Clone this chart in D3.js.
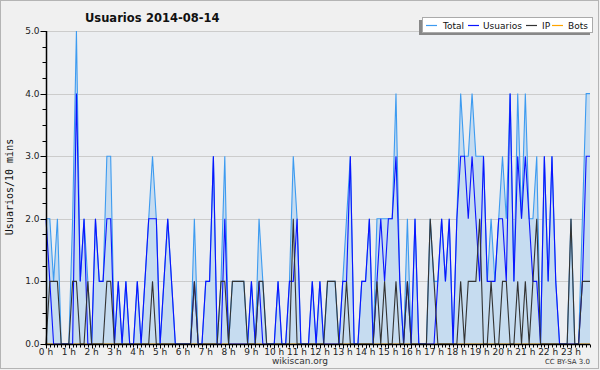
<!DOCTYPE html>
<html><head><meta charset="utf-8">
<script src="https://cdn.jsdelivr.net/npm/d3@7"></script>
<style>body{margin:0;background:#fff}svg{display:block}</style>
</head><body>
<svg id="c" width="600" height="370"></svg>
<script>
const total    = [2,2,1,2,0,0,0,2,5,1,2,1,0,2,1,1,3,3,0,1,0,1,0,0,1,0,1,2,3,2,0,1,2,1,0,0,0,0,0,2,0,0,1,1,3,0,1,3,0,1,1,1,1,0,1,0,2,1,0,0,0,1,0,0,1,3,2,0,0,0,1,0,1,0,1,1,1,0,1,2,3,0,0,1,1,2,0,2,2,2,2,2,4,1,0,2,0,2,0,0,0,2,1,1,2,1,2,0,2,4,3,3,4,3,3,3,1,2,1,2,3,2,4,1,4,2,4,2,2,3,0,3,1,3,1,0,0,0,2,0,0,2,4,4];
const usuarios = [2,1,0,0,0,0,0,0,4,1,2,0,0,2,1,1,2,2,0,1,0,1,0,0,1,0,1,2,2,2,0,1,2,1,0,0,0,0,0,1,0,0,1,1,3,0,0,2,0,0,0,0,0,0,1,0,1,0,0,0,0,1,0,0,1,1,2,0,0,0,1,0,1,0,0,0,0,0,1,1,3,0,0,1,1,2,0,1,2,1,2,2,3,1,0,1,0,2,0,0,0,0,0,1,2,1,2,0,2,3,3,2,3,2,1,3,1,1,1,2,2,1,4,1,3,2,3,2,1,1,0,3,1,3,1,0,0,0,0,0,0,1,3,3];
const ip       = [0,1,1,1,0,0,0,1,1,0,0,1,0,0,0,0,1,1,0,0,0,0,0,0,0,0,0,0,1,0,0,0,0,0,0,0,0,0,0,1,0,0,0,0,0,0,1,1,0,1,1,1,1,0,0,0,1,1,0,0,0,0,0,0,0,2,0,0,0,0,0,0,0,0,1,1,1,0,0,1,0,0,0,0,0,0,0,1,0,1,0,0,1,0,0,1,0,0,0,0,0,2,1,0,0,0,0,0,0,1,0,1,1,1,2,0,0,1,0,0,1,1,0,0,1,0,1,0,1,2,0,0,0,0,0,0,0,0,2,0,0,1,1,1];
const bots     = new Array(144).fill(0);
const hourLabels = ["0 h","1 h","2 h","3 h","4 h","5 h","6 h","7 h","8 h","9 h","10 h","11 h","12 h","13 h","14 h","15 h","16 h","17 h","18 h","19 h","20 h","21 h","22 h","23 h"];
const yTicks = [0,1,2,3,4,5];
const seriesNames = ["Total","Usuarios","IP","Bots"];
const seriesColors = ["#3d9bf0","#0a14ff","#333333","#ffa500"];

const svg = d3.select("#c");
const font = "DejaVu Sans, Verdana, sans-serif";
svg.append("rect").attr("x",0).attr("y",0).attr("width",600).attr("height",370).attr("fill","#f0f0f0");
svg.append("rect").attr("x",0.5).attr("y",0.5).attr("width",598).attr("height",368).attr("fill","none").attr("stroke","#b4b4b4").attr("stroke-width",1);

const x = d3.scaleLinear().domain([0,143]).range([46,590]);
const y = d3.scaleLinear().domain([0,5]).range([344,31]);

svg.append("rect").attr("x",46).attr("y",31).attr("width",544).attr("height",313).attr("fill","#eceef1");

// grid
svg.append("g").selectAll("line").data(yTicks.slice(1)).join("line")
  .attr("x1",46).attr("x2",590).attr("y1",d=>Math.round(y(d))+0.5).attr("y2",d=>Math.round(y(d))+0.5)
  .attr("stroke","#cccccc").attr("stroke-width",1);

const idx = d3.range(144);
const area = d3.area().x(i=>x(i)).y0(y(0)).y1(i=>y(total[i]));
svg.append("path").datum(idx).attr("d",area).attr("fill","#c6dcf0");

const line = arr => d3.line().x(i=>x(i)).y(i=>y(arr[i]));
[[bots,3],[total,0],[usuarios,1],[ip,2]].forEach(([arr,k])=>{
  svg.append("path").datum(idx).attr("d",line(arr)).attr("fill","none")
    .attr("stroke",seriesColors[k]).attr("stroke-width",1.1);
});

// y axis
const yMinor = d3.range(0,5.001,0.25);
const ya = svg.append("g").attr("transform","translate(46.5,0)");
ya.append("line").attr("x1",0).attr("x2",0).attr("y1",31).attr("y2",344.5).attr("stroke","#000").attr("stroke-width",1.5);
ya.selectAll("line.mn").data(yMinor).join("line").attr("class","mn")
  .attr("x1",d=>Number.isInteger(d)?-6:-4).attr("x2",0).attr("y1",d=>Math.round(y(d))+0.5).attr("y2",d=>Math.round(y(d))+0.5)
  .attr("stroke","#000").attr("stroke-width",1);
ya.selectAll("text").data(yTicks).join("text")
  .attr("x",-7).attr("y",d=>y(d)+3).attr("text-anchor","end")
  .attr("font-family",font).attr("font-size",9).attr("fill","#222").text(d=>d3.format(".1f")(d));

// x axis
const xa = svg.append("g").attr("transform","translate(0,344.5)");
xa.append("line").attr("x1",45).attr("x2",590).attr("y1",0).attr("y2",0).attr("stroke","#000").attr("stroke-width",1.5);
xa.selectAll("line.t").data(idx).join("line").attr("class","t")
  .attr("x1",i=>Math.round(x(i))+0.5).attr("x2",i=>Math.round(x(i))+0.5).attr("y1",0).attr("y2",i=>i%6===0?4:3)
  .attr("stroke","#000").attr("stroke-width",1);
xa.selectAll("text").data(hourLabels).join("text")
  .attr("x",(d,h)=>x(h*6)).attr("y",10).attr("text-anchor","middle")
  .attr("font-family",font).attr("font-size",9).attr("fill","#222").text(d=>d);

// title
svg.append("text").attr("x",85).attr("y",22)
  .attr("font-family",font).attr("font-size",11.5).attr("font-weight","bold").attr("fill","#111").text("Usuarios");
svg.append("text").attr("x",146).attr("y",22)
  .attr("font-family",font).attr("font-size",11.5).attr("font-weight","bold").attr("fill","#111").text("2014-08-14");

// y label
svg.append("text").attr("transform","translate(13,187) rotate(-90)").attr("text-anchor","middle")
  .attr("font-family","DejaVu Sans Mono, monospace").attr("font-size",10).attr("fill","#111").text("Usuarios/10 mins");

// footer
svg.append("text").attr("x",300).attr("y",364).attr("text-anchor","middle")
  .attr("font-family",font).attr("font-size",9).attr("fill","#333").text("wikiscan.org");
svg.append("text").attr("x",590).attr("y",364).attr("text-anchor","end")
  .attr("font-family",font).attr("font-size",7).attr("fill","#333").text("CC BY-SA 3.0");

// legend
const lg = svg.append("g");
lg.append("rect").attr("x",419).attr("y",20).attr("width",171).attr("height",15).attr("fill","#888");
lg.append("rect").attr("x",422.5).attr("y",17.5).attr("width",170).attr("height",15).attr("fill","#fff").attr("stroke","#aaa");
const lx = [426,468,526,552];
const tx = [443,483,542,568];
seriesNames.forEach((n,k)=>{
  lg.append("line").attr("x1",lx[k]).attr("x2",lx[k]+11).attr("y1",25.5).attr("y2",25.5).attr("stroke",seriesColors[k]).attr("stroke-width",1.2);
  lg.append("text").attr("x",tx[k]).attr("y",28.5).attr("font-family",font).attr("font-size",9).attr("fill","#111").text(n);
});
</script>
</body></html>
